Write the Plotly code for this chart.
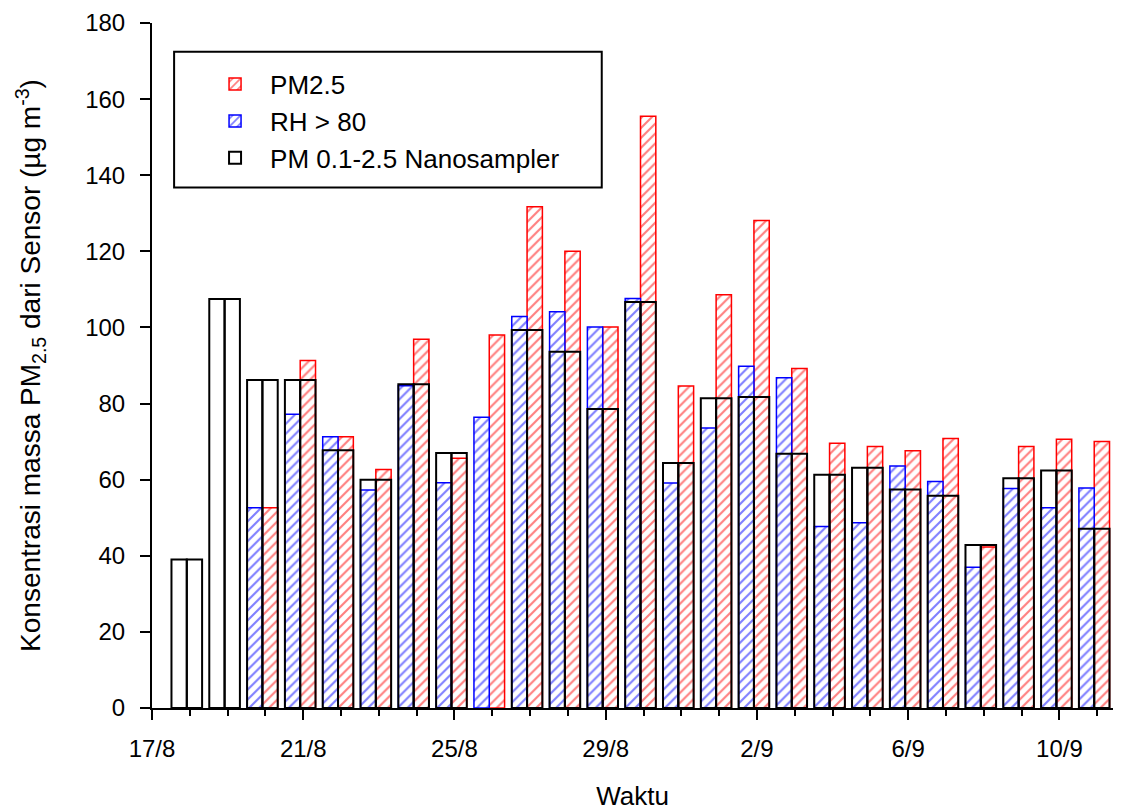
import plotly.graph_objects as go

# ---- data ----
dates = ["2019-08-18", "2019-08-19", "2019-08-20", "2019-08-21", "2019-08-22",
         "2019-08-23", "2019-08-24", "2019-08-25", "2019-08-26", "2019-08-27",
         "2019-08-28", "2019-08-29", "2019-08-30", "2019-08-31", "2019-09-01",
         "2019-09-02", "2019-09-03", "2019-09-04", "2019-09-05", "2019-09-06",
         "2019-09-07", "2019-09-08", "2019-09-09", "2019-09-10", "2019-09-11"]

pm25 = [None, None, 52.6, 91.3, 71.3, 62.7, 96.9, 65.6, 98.0, 131.7,
        120.0, 100.1, 155.5, 84.6, 108.6, 128.1, 89.2, 69.6, 68.7, 67.6,
        70.8, 42.3, 68.7, 70.6, 70.0]

rh80 = [None, None, 52.6, 77.2, 71.3, 57.3, 84.7, 59.2, 76.4, 102.9,
        104.1, 100.1, 107.6, 59.1, 73.6, 89.8, 86.8, 47.7, 48.7, 63.6,
        59.5, 37.0, 57.7, 52.6, 57.8]

nano = [39.0, 107.5, 86.2, 86.2, 67.7, 60.0, 85.1, 67.0, None, 99.3,
        93.6, 78.6, 106.7, 64.4, 81.4, 81.7, 66.8, 61.3, 63.1, 57.4,
        55.8, 42.8, 60.4, 62.4, 47.1]

series_names = ["PM2.5", "RH > 80", "PM 0.1-2.5 Nanosampler"]
x_title = "Waktu"
y_title = "Konsentrasi massa PM<sub>2.5</sub> dari Sensor (µg m<sup>-3</sup>)"

# ---- styling ----
DAY = 86400000
half_w = 0.405 * DAY
shift = -0.08 * DAY
FONT = "Arial, Liberation Sans, Helvetica, sans-serif"
PAGE_PAD = 8  # default body margin of the html page

fig = go.Figure()

fig.add_trace(go.Bar(
    x=dates, y=pm25, name=series_names[0],
    width=half_w, offset=shift,
    marker=dict(color="#FF0000", line=dict(color="#FF0000", width=1.5),
                pattern=dict(shape="/", fgcolor="#FF0000", bgcolor="white",
                             size=7, solidity=0.3)),
))
fig.add_trace(go.Bar(
    x=dates, y=rh80, name=series_names[1],
    width=half_w, offset=shift - half_w,
    marker=dict(color="#0000FF", line=dict(color="#0000FF", width=1.5),
                pattern=dict(shape="/", fgcolor="#0000FF", bgcolor="white",
                             size=7, solidity=0.3)),
))
fig.add_trace(go.Bar(
    x=dates, y=nano, name=series_names[2],
    width=half_w, offset=shift - half_w,
    marker=dict(color="rgba(255,255,255,0)", line=dict(color="black", width=2)),
))
fig.add_trace(go.Bar(
    x=dates, y=nano, name=series_names[2], showlegend=False,
    width=half_w, offset=shift,
    marker=dict(color="rgba(255,255,255,0)", line=dict(color="black", width=2)),
))

# legend frame
fig.add_shape(type="rect", xref="paper", yref="paper",
              x0=0.023, x1=0.468, y0=0.760, y1=0.958,
              line=dict(color="black", width=2), fillcolor="white", layer="below")

fig.update_layout(
    width=1126 - PAGE_PAD, height=811 - PAGE_PAD,
    margin=dict(l=152 - PAGE_PAD, r=13, t=23 - PAGE_PAD, b=103),
    barmode="overlay",
    plot_bgcolor="white", paper_bgcolor="white",
    font=dict(family=FONT, size=24, color="black"),
    showlegend=True,
    legend=dict(x=0.05, y=0.945, xanchor="left", yanchor="top",
                bgcolor="rgba(0,0,0,0)", borderwidth=0,
                font=dict(size=26), itemwidth=60, tracegroupgap=0,
                traceorder="normal"),
    xaxis=dict(
        type="date", automargin=False,
        range=["2019-08-17", "2019-09-11 10:00"],
        tick0="2019-08-17", dtick=4 * DAY, tickformat="%-d/%-m",
        ticks="outside", ticklen=10, tickwidth=2, tickcolor="black",
        ticklabelstandoff=8,
        minor=dict(dtick=DAY, ticks="outside", ticklen=6, tickwidth=2,
                   tickcolor="black", showgrid=False),
        showline=True, linecolor="black", linewidth=2,
        showgrid=False, zeroline=False,
        title=dict(text=x_title, font=dict(size=26), standoff=33),
    ),
    yaxis=dict(
        range=[0, 180], dtick=20, tick0=0, automargin=False,
        ticks="outside", ticklen=10, tickwidth=2, tickcolor="black",
        ticklabelstandoff=10,
        showline=True, linecolor="black", linewidth=2,
        showgrid=False, zeroline=False,
        title=dict(text=y_title, font=dict(size=28), standoff=36),
    ),
)

fig.write_html("out.html")
